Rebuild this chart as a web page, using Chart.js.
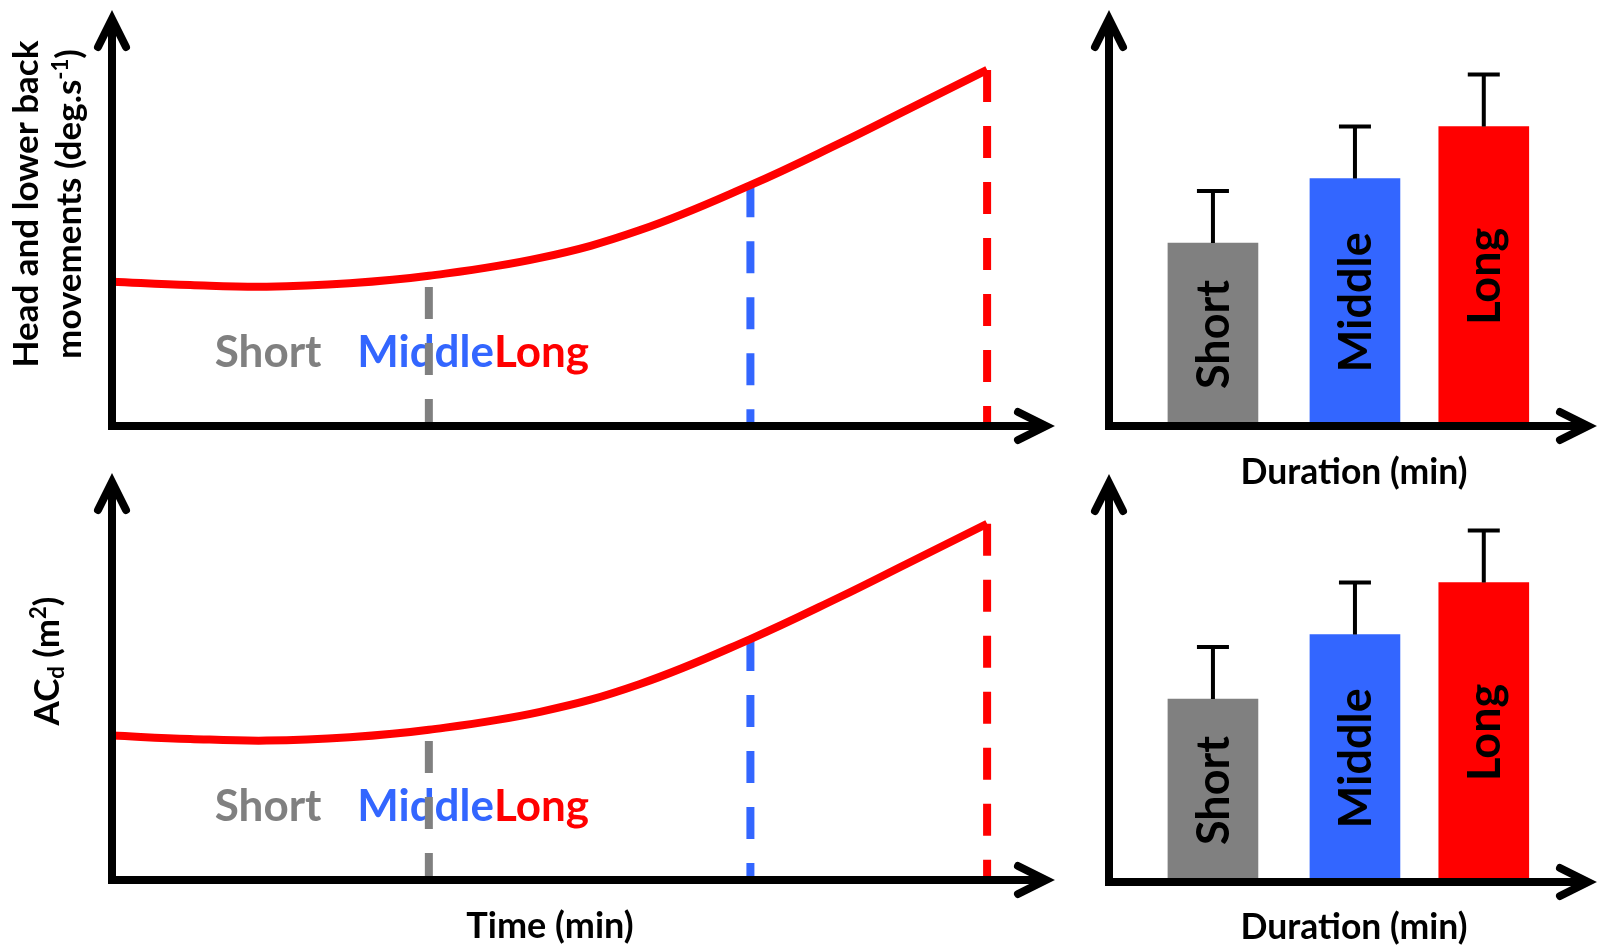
<!DOCTYPE html>
<html lang="en">
<head>
<meta charset="UTF-8" />
<title>duration effects</title>
<script src="https://cdn.jsdelivr.net/npm/chart.js"></script>
<style>
  body, html {
    margin: 0; padding: 0;
    background: #fff;
    width: 1600px; height: 948px;
    overflow: hidden;
  }
  canvas { position: absolute; }
</style>
</head>
<body>
  <canvas id="moveTrend" width="1075" height="455" style="left:0;top:0"></canvas>
  <canvas id="moveBars" width="525" height="500" style="left:1075px;top:0"></canvas>
  <canvas id="acdTrend" width="1075" height="493" style="left:0;top:455px"></canvas>
  <canvas id="acdBars" width="525" height="493" style="left:1075px;top:455px"></canvas>

<script>
  // schematic values, arbitrary units (axis runs 0..100 on both panels)
  const phaseNames = ['Short', 'Middle', 'Long'];
  const timePoints = [0, 8.3, 16.4, 25.2, 33.6, 45.4, 56.0, 67.7, 77.2, 84.3, 92.8];
  const trendValues = [34.7, 33.9, 33.5, 34.3, 36.1, 40.4, 47.1, 57.9, 68.0, 76.0, 85.6];
  const phaseEnds = [33.6, 67.7, 92.8];
  const phaseLevels = [33.4, 57.9, 85.6];
  const durationPos = [2.13, 5.04, 7.68];
  const barMeans = [44, 59.5, 72];
  const barErrors = [12.5, 12.5, 12.5];

  const GREY = '#808080', BLUE = '#3366ff', RED = '#ff0000';
  const phaseColors = [GREY, BLUE, RED];
  const FONT = 'Lato, "Open Sans", sans-serif';

  // draws text made of [string, 'sup'|'sub'|null] pieces, centred on cx
  function richText(ctx, parts, cx, y, size) {
    const small = Math.round(size * 0.62);
    const fontFor = p => 'bold ' + (p[1] ? small : size) + 'px ' + FONT;
    let w = 0;
    parts.forEach(p => { ctx.font = fontFor(p); w += ctx.measureText(p[0]).width; });
    let x = cx - w / 2;
    parts.forEach(p => {
      ctx.font = fontFor(p);
      let dy = 0;
      if (p[1] === 'sup') dy = -size * 0.38;
      if (p[1] === 'sub') dy = size * 0.14;
      ctx.fillText(p[0], x, y + dy);
      x += ctx.measureText(p[0]).width;
    });
  }

  // black axes with open arrow heads, plus the axis titles
  const axesPlugin = {
    id: 'arrowAxes',
    afterDraw(chart, args, opts) {
      const { ctx, chartArea: a } = chart;
      ctx.save();
      ctx.strokeStyle = '#000';
      ctx.lineWidth = 8;
      ctx.lineCap = 'butt';
      ctx.beginPath();
      ctx.moveTo(a.left, a.bottom + 4); ctx.lineTo(a.left, a.top + 12);
      ctx.moveTo(a.left - 4, a.bottom); ctx.lineTo(a.right - 12, a.bottom);
      ctx.stroke();
      ctx.lineCap = 'round';
      ctx.lineJoin = 'miter';
      ctx.beginPath();
      ctx.moveTo(a.left - 14, a.top + 37); ctx.lineTo(a.left, a.top + 9); ctx.lineTo(a.left + 14, a.top + 37);
      ctx.moveTo(a.right - 37, a.bottom - 14); ctx.lineTo(a.right - 9, a.bottom); ctx.lineTo(a.right - 37, a.bottom + 14);
      ctx.stroke();

      ctx.fillStyle = '#000';
      ctx.textBaseline = 'alphabetic';
      ctx.textAlign = 'left';
      if (opts.xTitle) {
        richText(ctx, [[opts.xTitle.text, null]], opts.xTitle.x, opts.xTitle.y, opts.xTitle.size);
      }
      if (opts.yTitle) {
        opts.yTitle.lines.forEach((parts, i) => {
          ctx.save();
          ctx.translate(opts.yTitle.x[i], opts.yTitle.y);
          ctx.rotate(-Math.PI / 2);
          richText(ctx, parts, 0, 0, 35);
          ctx.restore();
        });
      }
      ctx.restore();
    }
  };

  // Short / Middle / Long written under the curve, below the dashed markers
  const phaseLabels = {
    id: 'phaseLabels',
    beforeDatasetsDraw(chart) {
      const { ctx, scales: { x, y } } = chart;
      ctx.save();
      ctx.font = 'bold 44px ' + FONT;
      ctx.textBaseline = 'alphabetic';
      const base = y.getPixelForValue(14.2);
      ctx.fillStyle = GREY;
      ctx.fillText(phaseNames[0], x.getPixelForValue(10.9), base);
      let px = x.getPixelForValue(26.0);
      ctx.fillStyle = BLUE;
      ctx.fillText(phaseNames[1], px, base);
      px += ctx.measureText(phaseNames[1]).width;
      ctx.fillStyle = RED;
      ctx.fillText(phaseNames[2], px, base);
      ctx.restore();
    }
  };

  // SD whiskers above each bar and the rotated names inside them
  const barDecor = {
    id: 'barDecor',
    afterDatasetsDraw(chart) {
      const { ctx, scales: { y } } = chart;
      const meta = chart.getDatasetMeta(0);
      ctx.save();
      meta.data.forEach((bar, i) => {
        const top = y.getPixelForValue(barMeans[i] + barErrors[i]);
        ctx.strokeStyle = '#000';
        ctx.lineWidth = 4;
        ctx.beginPath();
        ctx.moveTo(bar.x, bar.y);
        ctx.lineTo(bar.x, top);
        ctx.moveTo(bar.x - 16, top);
        ctx.lineTo(bar.x + 16, top);
        ctx.stroke();

        ctx.save();
        ctx.translate(bar.x + 16, (bar.y + bar.base) / 2);
        ctx.rotate(-Math.PI / 2);
        ctx.font = 'bold 45px ' + FONT;
        ctx.textAlign = 'center';
        ctx.fillStyle = '#000';
        ctx.fillText(phaseNames[i], 0, 0);
        ctx.restore();
      });
      ctx.restore();
    }
  };

  function baseOptions(pad, xMax, yMax, titles) {
    return {
      responsive: false,
      animation: false,
      devicePixelRatio: 1,
      events: [],
      layout: { padding: pad },
      plugins: {
        legend: { display: false },
        tooltip: { enabled: false },
        arrowAxes: titles
      },
      scales: {
        x: { type: 'linear', display: false, offset: false, min: 0, max: xMax },
        y: { display: false, min: 0, max: yMax }
      }
    };
  }

  function trendChart(id, pad, yMax, titles) {
    return new Chart(document.getElementById(id), {
      type: 'line',
      data: {
        datasets: [
          {
            data: timePoints.map((t, i) => ({ x: t, y: trendValues[i] })),
            borderColor: RED,
            borderWidth: 8,
            tension: 0.4,
            pointRadius: 0
          },
          ...phaseEnds.map((t, i) => ({
            data: [{ x: t, y: phaseLevels[i] }, { x: t, y: 0 }],
            borderColor: phaseColors[i],
            borderWidth: 8,
            borderDash: [32, 24],
            pointRadius: 0
          }))
        ]
      },
      options: baseOptions(pad, 100, yMax, titles),
      plugins: [phaseLabels, axesPlugin]
    });
  }

  function barChart(id, pad, yMax, titles) {
    return new Chart(document.getElementById(id), {
      type: 'bar',
      data: {
        datasets: [{
          data: durationPos.map((d, i) => ({ x: d, y: barMeans[i] })),
          backgroundColor: phaseColors,
          borderWidth: 0,
          barThickness: 90
        }]
      },
      options: baseOptions(pad, 10, yMax, titles),
      plugins: [barDecor, axesPlugin]
    });
  }

  trendChart('moveTrend', { left: 112, right: 20, top: 10, bottom: 29 }, 100, {
    yTitle: {
      lines: [
        [['Head and lower back', null]],
        [['movements (deg.s', null], ['-1', 'sup'], [')', null]]
      ],
      x: [38, 81],
      y: 204
    }
  });

  barChart('moveBars', { left: 34, right: 3, top: 10, bottom: 74 }, 100, {
    xTitle: { text: 'Duration (min)', x: 1354 - 1075, y: 484, size: 35.5 }
  });

  trendChart('acdTrend', { left: 112, right: 20, top: 18, bottom: 68 }, 97.8, {
    xTitle: { text: 'Time (min)', x: 550, y: 483, size: 36 },
    yTitle: {
      lines: [[['AC', null], ['d', 'sub'], [' (m', null], ['2', 'sup'], [')', null]]],
      x: [59],
      y: 206
    }
  });

  barChart('acdBars', { left: 34, right: 3, top: 19, bottom: 66 }, 98.1, {
    xTitle: { text: 'Duration (min)', x: 1354 - 1075, y: 484, size: 35.5 }
  });
</script>
</body>
</html>
